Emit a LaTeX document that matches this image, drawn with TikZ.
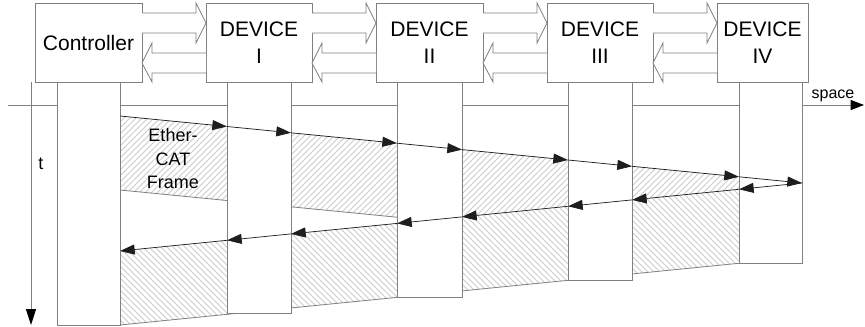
\documentclass[tikz,border=0pt]{standalone}
\usepackage{fontspec}
\setmainfont{Liberation Sans}
\usetikzlibrary{arrows.meta,calc,patterns}

\pgfdeclarepatternformonly{nehatch}{\pgfqpoint{-1pt}{-1pt}}{\pgfqpoint{5.5pt}{5.5pt}}{\pgfqpoint{4.5pt}{4.5pt}}{\pgfsetlinewidth{0.55pt}\pgfpathmoveto{\pgfqpoint{0pt}{0pt}}\pgfpathlineto{\pgfqpoint{4.6pt}{4.6pt}}\pgfusepath{stroke}}
\pgfdeclarepatternformonly{nwhatch}{\pgfqpoint{-1pt}{-1pt}}{\pgfqpoint{5.5pt}{5.5pt}}{\pgfqpoint{4.5pt}{4.5pt}}{\pgfsetlinewidth{0.55pt}\pgfpathmoveto{\pgfqpoint{0pt}{4.5pt}}\pgfpathlineto{\pgfqpoint{4.6pt}{-0.1pt}}\pgfusepath{stroke}}

\definecolor{linegray}{RGB}{128,128,128}
\definecolor{hatchgray}{RGB}{205,205,205}
\definecolor{arrowblack}{RGB}{30,30,30}

\newcommand{\hollowR}[2]{%
  \draw[hollow] ($(#1.north east)+(0,10)$) -- ($(#2.north west)+(-10,10)$) -- ($(#2.north west)+(-10,0)$) -- ($(#2.north west)+(0,20)$) -- ($(#2.north west)+(-10,40)$) -- ($(#2.north west)+(-10,30)$) -- ($(#1.north east)+(0,30)$);}
\newcommand{\hollowL}[2]{%
  \draw[hollow] ($(#1.north west)+(0,50)$) -- ($(#2.north east)+(10,50)$) -- ($(#2.north east)+(10,40)$) -- ($(#2.north east)+(0,60)$) -- ($(#2.north east)+(10,79)$) -- ($(#2.north east)+(10,70)$) -- ($(#1.north west)+(0,70)$);}

\begin{document}
\begin{tikzpicture}[x=0.75pt,y=-0.75pt,
  box/.style={draw=linegray, line width=0.75pt, fill=white, inner sep=0pt, outer sep=0pt, align=center, font=\fontsize{15.75}{20.25}\selectfont, minimum height=59.25pt},
  lane/.style={draw=linegray, line width=0.75pt, fill=white},
  hollow/.style={draw=linegray, line width=0.6pt, fill=white},
  msg/.style={draw=arrowblack, line width=0.55pt, -{Triangle[length=11pt,width=7.5pt]}},
  framedge/.style={draw=linegray, line width=0.6pt},
  axis/.style={draw=linegray, line width=0.75pt}]

\fill[white] (0,0) rectangle (865,326);
\useasboundingbox (0,0) rectangle (865,326);

% axes
\coordinate (hs) at (8,105);
\coordinate (he) at (864,105);
\coordinate (vs) at (31,82);
\coordinate (ve) at (31,325);
\draw[axis, -{Triangle[length=10pt,width=7.5pt,color=black]}] (hs) -- (he);
\draw[axis, -{Triangle[length=12pt,width=7.5pt,color=black]}] (vs) -- (ve);

% frame points
\coordinate (f0) at (120,116);
\coordinate (f1) at (227,126.5);
\coordinate (f2) at (291,132.8);
\coordinate (f3) at (397,143.2);
\coordinate (f4) at (462,149.6);
\coordinate (f5) at (568,160);
\coordinate (f6) at (632,166.3);
\coordinate (f7) at (739,176.8);
\coordinate (f8) at (802,183);
\coordinate (r7) at (739,189.3);
\coordinate (r6) at (632,199.9);
\coordinate (r5) at (568,206.3);
\coordinate (r4) at (462,216.9);
\coordinate (r3) at (397,223.4);
\coordinate (r2) at (291,233.9);
\coordinate (r1) at (227,240.3);
\coordinate (r0) at (120,251);
\coordinate (fb0) at (120,190);
\coordinate (fb8) at (802,257);
\coordinate (rb0) at (120,325);

% forward frame
\fill[white] (f0) -- (f8) -- (fb8) -- (fb0) -- cycle;
\fill[pattern=nehatch, pattern color=hatchgray] (f0) -- (f8) -- (fb8) -- (fb0) -- cycle;
\draw[framedge] (fb0) -- (fb8);
% return frame
\fill[white] (f8) -- (r0) -- (rb0) -- (fb8) -- cycle;
\fill[pattern=nwhatch, pattern color=hatchgray] (f8) -- (r0) -- (rb0) -- (fb8) -- cycle;
\draw[framedge] (rb0) -- (fb8);

% lanes
\draw[lane] (57,82) rectangle (120,325);
\draw[lane] (227,82) rectangle (291,313.3);
\draw[lane] (397,82) rectangle (462,297.4);
\draw[lane] (568,82) rectangle (632,280.3);
\draw[lane] (739,82) rectangle (802,263.3);

% boxes
\node[box, minimum width=80.25pt] (ctrl) at (88.5,42.5) {Controller};
\node[box, minimum width=79.5pt] (d1) at (259,42.5) {DEVICE\\I};
\node[box, minimum width=80.25pt] (d2) at (429.5,42.5) {DEVICE\\II};
\node[box, minimum width=79.5pt] (d3) at (600,42.5) {DEVICE\\III};
\node[box, minimum width=68.25pt] (d4) at (762.5,42.5) {DEVICE\\IV};

\hollowR{ctrl}{d1}
\hollowR{d1}{d2}
\hollowR{d2}{d3}
\hollowR{d3}{d4}
\hollowL{d1}{ctrl}
\hollowL{d2}{d1}
\hollowL{d3}{d2}
\hollowL{d4}{d3}

% messages
\draw[msg] (f0) -- (f1);
\draw[msg] (f1) -- (f2);
\draw[msg] (f2) -- (f3);
\draw[msg] (f3) -- (f4);
\draw[msg] (f4) -- (f5);
\draw[msg] (f5) -- (f6);
\draw[msg] (f6) -- (f7);
\draw[msg] (f7) -- (f8);
\draw[msg] (f8) -- (r7);
\draw[msg] (r7) -- (r6);
\draw[msg] (r6) -- (r5);
\draw[msg] (r5) -- (r4);
\draw[msg] (r4) -- (r3);
\draw[msg] (r3) -- (r2);
\draw[msg] (r2) -- (r1);
\draw[msg] (r1) -- (r0);

% labels
\node[font=\fontsize{13.5}{17.6}\selectfont, align=center] (lbl) at (173,159) {Ether-\\CAT\\Frame};
\node[font=\fontsize{12}{14}\selectfont, anchor=base] (sp) at (833,98) {space};
\node[font=\fontsize{13.5}{16}\selectfont, anchor=base] (tl) at (41,169) {t};
\end{tikzpicture}
\end{document}
